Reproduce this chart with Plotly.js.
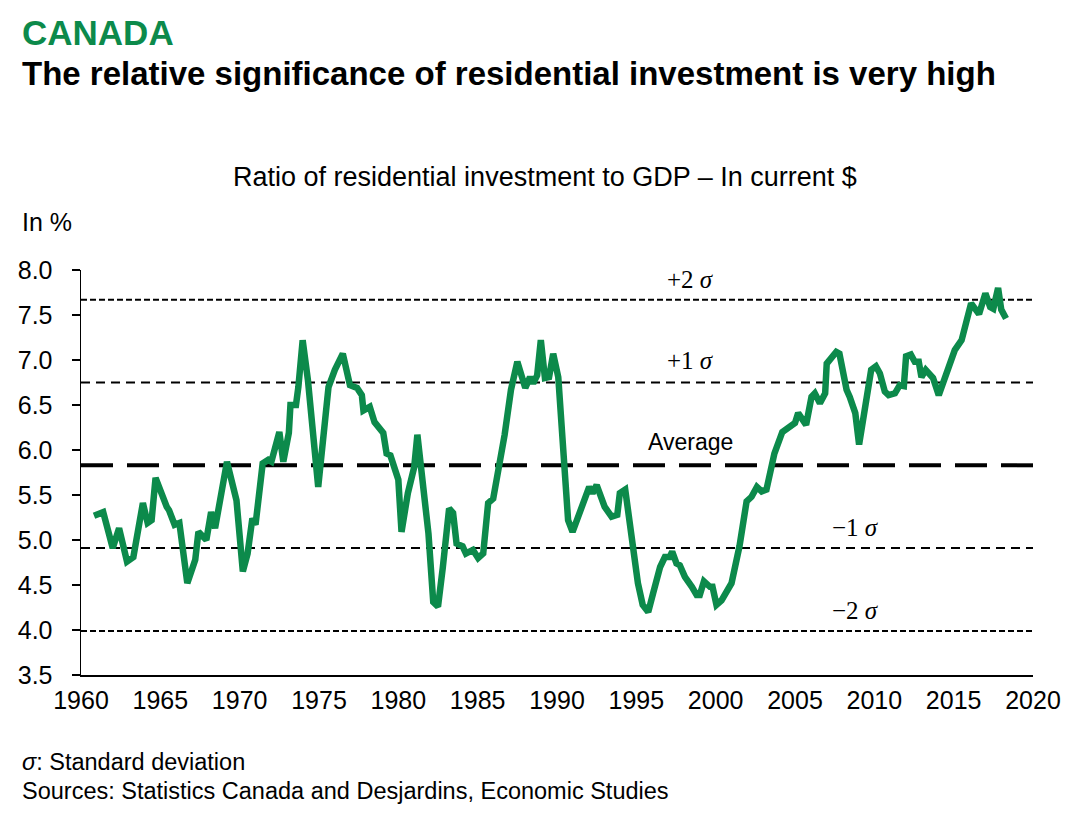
<!DOCTYPE html>
<html>
<head>
<meta charset="utf-8">
<script src="https://cdn.plot.ly/plotly-3.0.1.min.js"></script>
<style>html,body{margin:0;padding:0;background:#fff;}#chart{width:1080px;height:818px;}</style>
</head>
<body>
<div id="chart"></div>
<script>
// Ratio of residential investment to GDP (%), Canada
const years = [1960.82,1961.4,1962.0,1962.4,1962.9,1963.3,1963.9,1964.2,1964.45,1964.7,1965.4,1965.55,1965.9,1966.2,1966.7,1967.2,1967.4,1967.9,1968.2,1968.45,1969.2,1969.8,1970.2,1970.5,1970.8,1971.0,1971.45,1971.8,1972.0,1972.5,1972.75,1973.1,1973.2,1973.55,1973.7,1973.97,1974.3,1974.95,1975.6,1976.0,1976.5,1976.95,1977.4,1977.7,1977.8,1978.2,1978.5,1978.85,1979.05,1979.26,1979.5,1980.0,1980.2,1980.6,1981.0,1981.2,1981.6,1981.9,1982.2,1982.5,1982.8,1983.2,1983.45,1983.67,1984.05,1984.26,1984.7,1985.03,1985.35,1985.66,1985.98,1986.7,1987.1,1987.5,1988.0,1988.3,1988.5,1988.75,1988.98,1989.24,1989.5,1989.76,1990.08,1990.7,1990.98,1991.44,1992.03,1992.24,1992.5,1993.0,1993.44,1993.8,1993.96,1994.3,1994.7,1995.1,1995.4,1995.75,1996.06,1996.5,1996.8,1997.1,1997.26,1997.53,1997.74,1998.06,1998.5,1998.8,1999.0,1999.26,1999.64,1999.8,2000.05,2000.37,2001.0,2001.5,2001.95,2002.26,2002.6,2002.9,2003.2,2003.7,2004.2,2004.67,2005.0,2005.2,2005.7,2006.04,2006.25,2006.57,2006.9,2007.0,2007.3,2007.6,2007.8,2008.25,2008.45,2008.8,2009.04,2009.4,2009.8,2010.1,2010.35,2010.66,2010.9,2011.3,2011.6,2011.86,2012.0,2012.3,2012.55,2012.8,2012.97,2013.24,2013.5,2013.7,2014.06,2014.38,2014.7,2015.07,2015.5,2015.8,2016.1,2016.6,2017.0,2017.3,2017.5,2017.8,2018.0,2018.3];
const ratio = [5.27,5.31,4.91,5.13,4.76,4.81,5.41,5.19,5.22,5.69,5.37,5.33,5.17,5.19,4.52,4.78,5.09,5.00,5.31,5.13,5.87,5.44,4.65,4.85,5.24,5.17,5.85,5.89,5.87,6.20,5.87,6.19,6.50,6.50,6.70,7.22,6.78,5.59,6.70,6.89,7.07,6.72,6.69,6.61,6.44,6.48,6.31,6.22,6.19,5.96,5.94,5.67,5.09,5.52,5.81,6.17,5.52,5.07,4.31,4.26,4.69,5.35,5.30,4.96,4.93,4.85,4.89,4.80,4.85,5.41,5.46,6.17,6.67,6.98,6.69,6.81,6.74,6.83,7.22,6.80,6.81,7.07,6.81,5.22,5.09,5.30,5.59,5.52,5.61,5.37,5.26,5.28,5.52,5.56,5.07,4.52,4.28,4.20,4.41,4.70,4.81,4.81,4.87,4.74,4.72,4.59,4.48,4.39,4.39,4.54,4.48,4.48,4.28,4.33,4.52,4.93,5.43,5.48,5.59,5.54,5.56,5.96,6.20,6.26,6.30,6.41,6.28,6.59,6.63,6.52,6.63,6.96,7.02,7.09,7.07,6.67,6.59,6.41,6.06,6.48,6.89,6.93,6.85,6.65,6.61,6.63,6.72,6.71,7.04,7.06,6.98,6.98,6.81,6.89,6.83,6.80,6.61,6.78,6.91,7.11,7.22,7.41,7.63,7.51,7.74,7.59,7.57,7.80,7.56,7.46];

const average = 5.83;
const sigma = 0.92;
const xSpan = [1960, 2020];
const xTicks = [1960,1965,1970,1975,1980,1985,1990,1995,2000,2005,2010,2015,2020];
const yTicks = [3.5,4.0,4.5,5.0,5.5,6.0,6.5,7.0,7.5,8.0];

const FONT = "Liberation Sans, Arial, sans-serif";
const SERIF = "Liberation Serif, Times New Roman, serif";

function hline(v, width, dash) {
  return {x: xSpan, y: [v, v], mode: 'lines', hoverinfo: 'skip', showlegend: false,
          line: {color: '#000000', width: width, dash: dash}};
}

const traces = [
  hline(average + 2*sigma, 2, '6px,3px'),
  hline(average + sigma, 2, '9px,6px'),
  hline(average, 4, '32px,14px'),
  hline(average - sigma, 2, '9px,6px'),
  hline(average - 2*sigma, 2, '6px,3px'),
  {x: years, y: ratio, mode: 'lines', showlegend: false,
   line: {color: '#0c8a4b', width: 6.5}}
];

function pap(text, x, y, size, opts) {
  return Object.assign({text: text, xref: 'paper', yref: 'paper', x: x, y: y,
    xanchor: 'left', yanchor: 'middle', showarrow: false,
    font: {family: FONT, size: size, color: '#000'}}, opts || {});
}

const layout = {
  width: 1080, height: 818,
  margin: {l: 81, r: 47, t: 270, b: 143},
  paper_bgcolor: '#fff', plot_bgcolor: '#fff',
  xaxis: {range: xSpan, tickvals: xTicks, ticktext: xTicks.map(String), showgrid: false, zeroline: false,
          showline: true, linecolor: '#000', linewidth: 1.5, ticks: '',
          ticklabelstandoff: 2,
          tickfont: {family: FONT, size: 25, color: '#000'}},
  yaxis: {range: [3.5, 8.0], tickvals: yTicks, ticktext: yTicks.map(v => v.toFixed(1)), showgrid: false, zeroline: false,
          showline: true, linecolor: '#000', linewidth: 1.5, ticks: 'outside', ticklen: 8, tickcolor: '#000',
          tickwidth: 1.5, ticklabelstandoff: 14,
          tickfont: {family: FONT, size: 25, color: '#000'}},
  annotations: [
    pap('<b>CANADA</b>', -0.064, (675-33)/405, 35, {font: {family: FONT, size: 35, color: '#0c8a4b'}}),
    pap('<b>The relative significance of residential investment is very high</b>', -0.064, (675-74)/405, 33),
    pap('Ratio of residential investment to GDP – In current $', 0.487, (675-177)/405, 27, {xanchor: 'center'}),
    pap('In %', -0.064, (675-222)/405, 25),
    pap('<i>σ</i>: Standard deviation', -0.064, (675-762)/405, 23.5),
    pap('Sources: Statistics Canada and Desjardins, Economic Studies', -0.064, (675-791)/405, 23.5),
    {text: '+2 <i>σ</i>', xref: 'x', yref: 'y', x: 1998.4, y: 7.89, showarrow: false, font: {family: SERIF, size: 25, color: '#000'}},
    {text: '+1 <i>σ</i>', xref: 'x', yref: 'y', x: 1998.4, y: 7.0, showarrow: false, font: {family: SERIF, size: 25, color: '#000'}},
    {text: 'Average', xref: 'x', yref: 'y', x: 1998.4, y: 6.09, showarrow: false, font: {family: FONT, size: 23, color: '#000'}},
    {text: '−1 <i>σ</i>', xref: 'x', yref: 'y', x: 2008.8, y: 5.14, showarrow: false, font: {family: SERIF, size: 25, color: '#000'}},
    {text: '−2 <i>σ</i>', xref: 'x', yref: 'y', x: 2008.8, y: 4.22, showarrow: false, font: {family: SERIF, size: 25, color: '#000'}}
  ]
};

Plotly.newPlot('chart', traces, layout, {displayModeBar: false, staticPlot: true});
</script>
</body>
</html>
